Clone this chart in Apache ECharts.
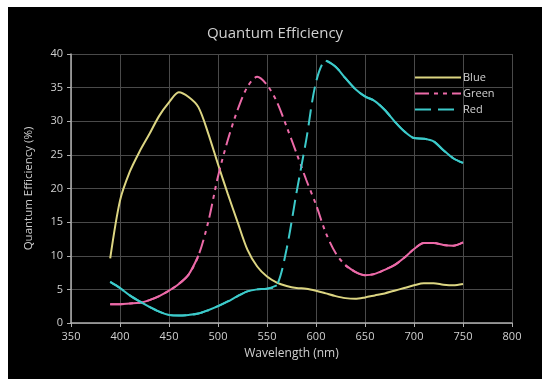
<!DOCTYPE html>
<html><head><meta charset="utf-8">
<script src="https://cdn.jsdelivr.net/npm/echarts@6/dist/echarts.min.js"></script>
<style>
html,body{margin:0;padding:0;background:#fff;width:542px;height:379px;overflow:hidden}
#c{position:absolute;left:8px;top:7px;width:534px;height:372px;background:#000}
</style></head><body>
<div id="c"></div>
<script>
const wavelengths = [390,400,410,420,430,440,450,460,470,480,490,500,510,520,530,540,550,560,570,580,590,600,610,620,630,640,650,660,670,680,690,700,710,720,730,740,750];
const blueQE  = [9.6,18.2,22.5,25.5,28.1,30.8,32.8,34.3,33.6,32.1,28.2,23.6,19.2,15.0,10.9,8.4,6.9,6.0,5.5,5.2,5.1,4.8,4.4,4.0,3.7,3.6,3.8,4.1,4.4,4.8,5.2,5.6,5.9,5.9,5.7,5.6,5.8];
const greenQE = [2.8,2.8,2.9,3.0,3.4,4.0,4.8,5.8,7.2,10.0,15.0,21.8,27.2,31.7,35.1,36.6,35.4,32.9,29.2,25.3,21.3,17.6,13.4,10.4,8.6,7.6,7.1,7.3,7.9,8.6,9.7,11.0,11.9,11.9,11.6,11.5,12.0];
const redQE   = [6.1,5.2,4.1,3.2,2.4,1.7,1.2,1.1,1.2,1.4,1.9,2.5,3.2,4.0,4.7,5.0,5.1,5.6,11.0,19.3,27.2,35.8,39.0,38.1,36.4,34.8,33.7,33.0,31.7,30.0,28.5,27.5,27.4,27.0,25.7,24.5,23.8];
// wavelength ranges where the original curve looks dashed (sparse points)
const greenDashed = [480,630];
const redDashed   = [560,610];
const seriesNames = ['Blue','Green','Red'];
const xTicks = [350,800,50];
const yTicks = [0,40,5];

const pair = (ys) => wavelengths.map((x,i)=>[x,ys[i]]);
const solidPart = (ys, r) => wavelengths.map((x,i)=>[x,(x<=r[0]||x>=r[1])?ys[i]:null]);
const txt = '#d0d0d0';
const font = 'Open Sans';
const cB='#dcd582', cG='#ec6aa8', cR='#3ccaca';
const chart = echarts.init(document.getElementById('c'));
chart.setOption({
  backgroundColor:'#000',
  animation:false,
  title:{text:'Quantum Efficiency',left:'center',top:14,textStyle:{color:txt,fontSize:15,fontWeight:'normal',fontFamily:font}},
  grid:{left:63,right:30,top:47,bottom:56},
  legend:{orient:'vertical',left:401,top:60,itemWidth:46,itemHeight:10,itemGap:5,
    itemStyle:{opacity:0},
    textStyle:{color:txt,fontSize:11,fontFamily:font,padding:[0,0,0,-3]},data:seriesNames},
  xAxis:{type:'value',min:xTicks[0],max:xTicks[1],interval:xTicks[2],
    name:'Wavelength (nm)',nameLocation:'middle',nameGap:25,
    nameTextStyle:{color:txt,fontSize:12,fontFamily:font},
    axisLine:{lineStyle:{color:'#b0b0b0',width:1.5}},
    axisTick:{show:true,length:4,lineStyle:{color:'#b0b0b0'}},
    axisLabel:{color:txt,fontSize:11,fontFamily:font,margin:8},
    splitLine:{show:true,lineStyle:{color:'#4a4a4a',width:1}}},
  yAxis:{type:'value',min:yTicks[0],max:yTicks[1],interval:yTicks[2],
    name:'Quantum Efficiency (%)',nameLocation:'middle',nameGap:36,
    nameTextStyle:{color:txt,fontSize:11.5,fontFamily:font},
    axisLine:{show:true,lineStyle:{color:'#b0b0b0',width:1.5}},
    axisTick:{show:true,length:4,lineStyle:{color:'#b0b0b0'}},
    axisLabel:{color:txt,fontSize:11,fontFamily:font,margin:8},
    splitLine:{show:true,lineStyle:{color:'#4a4a4a',width:1}}},
  series:[
    {name:seriesNames[0],type:'line',data:pair(blueQE),symbol:'none',smooth:0.3,
      lineStyle:{color:cB,width:2},itemStyle:{color:cB}},
    {name:seriesNames[1],type:'line',data:pair(greenQE),symbol:'none',smooth:0.3,
      lineStyle:{color:cG,width:2,type:[14,5,4,5,4,5]},itemStyle:{color:cG}},
    {name:seriesNames[2],type:'line',data:pair(redQE),symbol:'none',smooth:0.3,
      lineStyle:{color:cR,width:2,type:[16,7]},itemStyle:{color:cR}},
    {name:seriesNames[1],type:'line',data:solidPart(greenQE,greenDashed),symbol:'none',smooth:0.3,connectNulls:false,
      lineStyle:{color:cG,width:2},itemStyle:{color:cG}},
    {name:seriesNames[2],type:'line',data:solidPart(redQE,redDashed),symbol:'none',smooth:0.3,connectNulls:false,
      lineStyle:{color:cR,width:2},itemStyle:{color:cR}}
  ]
});
</script></body></html>
